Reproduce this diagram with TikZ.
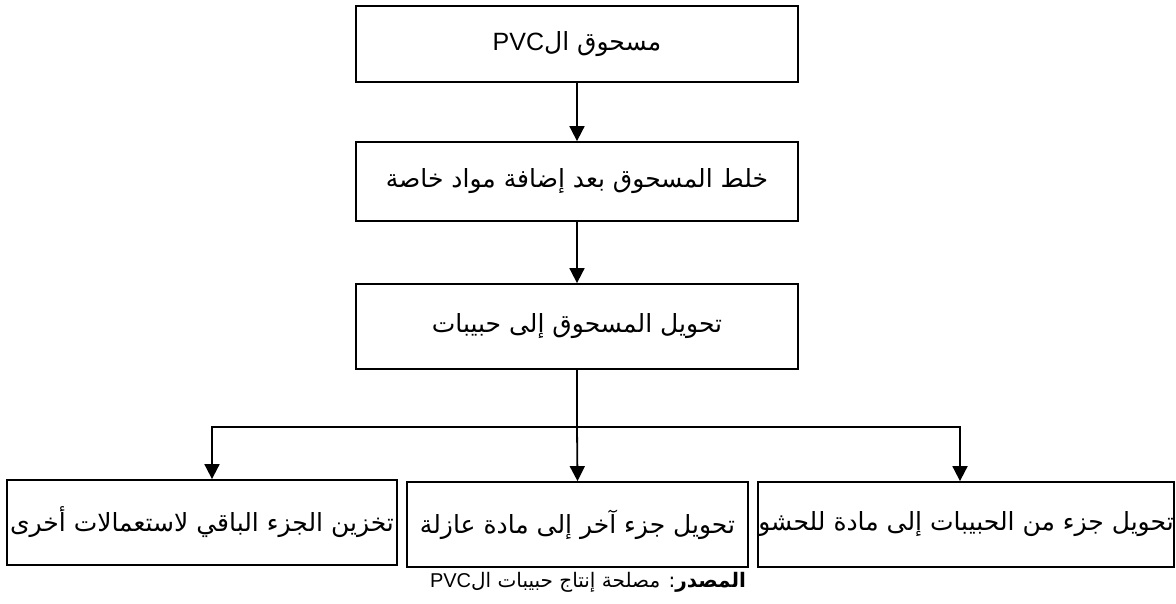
\documentclass[tikz,border=0pt]{standalone}
\usepackage{fontspec}
\usetikzlibrary{arrows.meta}
\TeXXeTstate=1
\newfontfamily\arabicfont[Script=Arabic]{DejaVu Sans}
\setmainfont{Liberation Sans}
\newcommand{\ar}[1]{\beginR #1\endR}
\newcommand{\pvc}[1]{\beginL{\normalfont\fontsize{#1}{#1}\selectfont PVC}\endL}
\begin{document}
\begin{tikzpicture}[x=1pt,y=-1pt,
  stage/.style={draw, line width=1.8pt, inner sep=0pt, align=center,
    font=\arabicfont\fontsize{25}{30}\selectfont},
  link/.style={line width=1.8pt},
  flow/.style={link, -{Triangle[width=15pt,length=15pt]}}]
\useasboundingbox (0,0) rectangle (1176,603);
% main chain
\node[stage, minimum width=442pt, minimum height=76pt] (powder) at (577,44)
  {\ar{مسحوق ال\pvc{25}}};
\node[stage, minimum width=442pt, minimum height=79pt] (mix) at (577,181.5)
  {\ar{خلط المسحوق بعد إضافة مواد خاصة}};
\node[stage, minimum width=442pt, minimum height=85pt] (pellet) at (577,326.5)
  {\ar{تحويل المسحوق إلى حبيبات}};
% three outputs
\node[stage, minimum width=390pt, minimum height=85pt] (store) at (202,522.5)
  {\ar{تخزين الجزء الباقي لاستعمالات أخرى}};
\node[stage, minimum width=341pt, minimum height=85pt] (insul) at (577.5,524.5)
  {\ar{تحويل جزء آخر إلى مادة عازلة}};
\node[stage, minimum width=416pt, minimum height=85pt] (fill) at (966,524.5)
  {\ar{تحويل جزء من الحبيبات إلى مادة للحشو}};
% source line
\node[font=\arabicfont\fontsize{20}{24}\selectfont, inner sep=0pt] (src) at (588,582)
  {\ar{\textbf{المصدر}: مصلحة إنتاج حبيبات ال\pvc{20}}};
% connectors
\coordinate (split) at (577,427);
\draw[flow] (powder) -- (mix);
\draw[flow] (mix) -- (pellet);
\draw[link] (pellet.south) -- (split);
\draw[flow] (split) -- (insul.north);
\draw[flow] (split) -| ([xshift=10pt]store.north);
\draw[flow] (split) -| ([xshift=-6pt]fill.north);
\end{tikzpicture}
\end{document}
